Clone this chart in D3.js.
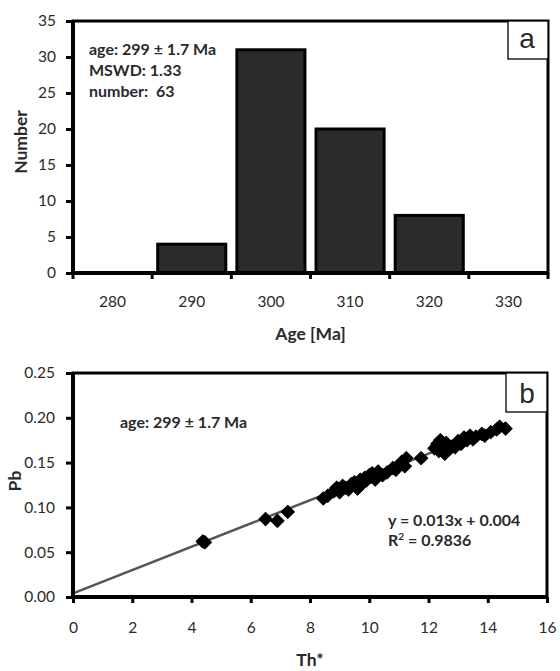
<!DOCTYPE html>
<html><head><meta charset="utf-8">
<script src="https://cdn.jsdelivr.net/npm/d3@7/dist/d3.min.js"></script>
<style>
body{margin:0;background:#fff;}
text{font-family:Lato,"Open Sans",sans-serif;}
</style></head>
<body><svg id="c" width="560" height="671"></svg>
<script>
// ---- Panel a data ----
const ageCategories = ["280","290","300","310","320","330"];
const ageCounts = [0, 4, 31, 20, 8, 0];
const countTicks = [0,5,10,15,20,25,30,35];
const annotA = ["age: 299 \u00b1 1.7 Ma", "MSWD: 1.33", "number:  63"];

// ---- Panel b data ----
const thStar = [4.38,4.45,6.5,6.9,7.25,
 8.45,8.6,8.8,8.9,9.0,9.1,9.2,9.3,9.4,9.5,9.6,9.65,9.7,9.75,9.85,9.9,10.0,10.05,10.1,10.2,10.3,10.45,10.6,10.8,10.9,11.0,11.1,11.2,11.25,
 11.75,12.2,12.3,12.35,12.4,12.5,12.55,12.6,12.7,12.8,12.9,13.0,13.1,13.2,13.3,13.4,13.5,13.6,13.8,13.9,14.1,14.3,14.4,14.6];
const pb = [0.062,0.061,0.087,0.085,0.095,
 0.110,0.113,0.118,0.122,0.117,0.124,0.122,0.120,0.126,0.128,0.121,0.123,0.131,0.127,0.133,0.130,0.136,0.134,0.138,0.131,0.140,0.136,0.139,0.144,0.142,0.147,0.151,0.146,0.155,
 0.155,0.166,0.171,0.163,0.175,0.168,0.160,0.172,0.165,0.168,0.167,0.174,0.171,0.178,0.175,0.180,0.176,0.179,0.182,0.180,0.184,0.187,0.190,0.188];
const xTicksB = [0,2,4,6,8,10,12,14,16];
const yTicksB = [0,0.05,0.10,0.15,0.20,0.25];
const slope = 0.013, intercept = 0.004;
const annotB = "age: 299 \u00b1 1.7 Ma";

const svg = d3.select("#c");
const TXT = "#2a2a2a";
const styleTicks = g => g.selectAll("text").attr("font-size",15.5).attr("fill",TXT).style("font-family","Lato");

// ================= Panel a =================
const A = {l:73, r:548, t:21, b:273};
const xa = d3.scaleBand().domain(ageCategories).range([A.l, A.r]).paddingInner(0.14).paddingOuter(0.07);
const ya = d3.scaleLinear().domain([0,35]).range([A.b, A.t]);
const ga = svg.append("g");

ga.selectAll("rect.bar").data(ageCategories.map((c,i)=>({c, v:ageCounts[i]})).filter(d=>d.v>0))
 .join("rect").attr("class","bar")
 .attr("x", d=>xa(d.c)).attr("width", xa.bandwidth())
 .attr("y", d=>ya(d.v)).attr("height", d=>ya(0)-ya(d.v))
 .attr("fill","#2b2b2b").attr("stroke","#000").attr("stroke-width",3);

ga.append("rect").attr("x",A.l).attr("y",A.t).attr("width",A.r-A.l).attr("height",A.b-A.t)
 .attr("fill","none").attr("stroke","#000").attr("stroke-width",3);
ga.append("line").attr("x1",A.l).attr("x2",A.r).attr("y1",A.b).attr("y2",A.b).attr("stroke","#000").attr("stroke-width",4);
ga.append("line").attr("x1",A.l).attr("x2",A.l).attr("y1",A.t).attr("y2",A.b).attr("stroke","#000").attr("stroke-width",4);

ga.append("g").attr("transform",`translate(${A.l},0)`)
 .call(d3.axisLeft(ya).tickValues(countTicks).tickSize(7).tickPadding(10))
 .call(g=>{g.select(".domain").remove(); g.selectAll("line").attr("stroke-width",3);}).call(styleTicks);

ga.append("g").attr("transform",`translate(0,${A.b})`)
 .call(d3.axisBottom(xa).tickSize(0).tickPadding(23))
 .call(g=>g.select(".domain").remove()).call(styleTicks);
const bounds = d3.range(ageCategories.length+1).map(i=>A.l + i*xa.step());
ga.selectAll("line.bt").data(bounds).join("line").attr("class","bt")
 .attr("x1",d=>d).attr("x2",d=>d).attr("y1",A.b).attr("y2",A.b+6)
 .attr("stroke","#000").attr("stroke-width",3);

ga.append("text").attr("transform",`translate(23,${(A.t+A.b)/2-5}) rotate(-90)`)
 .attr("text-anchor","middle").attr("dominant-baseline","middle").attr("fill",TXT)
 .attr("font-size",17.5).attr("font-weight","bold").text("Number");
ga.append("text").attr("x",(A.l+A.r)/2).attr("y",340).attr("text-anchor","middle").attr("fill",TXT)
 .attr("font-size",17.5).attr("font-weight","bold").text("Age [Ma]");

ga.selectAll("text.ann").data(annotA).join("text").attr("class","ann")
 .attr("x",89).attr("y",(d,i)=>55+i*21).attr("font-size",16).attr("font-weight","bold")
 .style("white-space","pre").attr("fill",TXT).text(d=>d);

ga.append("rect").attr("x",508).attr("y",A.t).attr("width",A.r-508).attr("height",38)
 .attr("fill","#fff").attr("stroke","#000").attr("stroke-width",1.3);
ga.append("text").attr("x",527).attr("y",48).attr("text-anchor","middle").attr("fill",TXT)
 .style("font-family","Liberation Sans, Arial").attr("font-size",28).text("a");

// ================= Panel b =================
const B = {l:73, r:547, t:373, b:597};
const xb = d3.scaleLinear().domain([0,16]).range([B.l,B.r]);
const yb = d3.scaleLinear().domain([0,0.25]).range([B.b,B.t]);
const gb = svg.append("g");

gb.append("rect").attr("x",B.l).attr("y",B.t).attr("width",B.r-B.l).attr("height",B.b-B.t)
 .attr("fill","none").attr("stroke","#000").attr("stroke-width",3);

gb.append("g").attr("transform",`translate(${B.l},0)`)
 .call(d3.axisLeft(yb).tickValues(yTicksB).tickFormat(d3.format(".2f")).tickSize(7).tickPadding(11))
 .call(g=>{g.select(".domain").remove(); g.selectAll("line").attr("stroke-width",3);}).call(styleTicks);
gb.append("g").attr("transform",`translate(0,${B.b})`)
 .call(d3.axisBottom(xb).tickValues(xTicksB).tickSize(6).tickPadding(19))
 .call(g=>{g.select(".domain").remove(); g.selectAll("line").attr("stroke-width",3);}).call(styleTicks);

// trend line
const xmax = d3.max(thStar);
gb.append("line").attr("x1",xb(0)).attr("y1",yb(intercept))
 .attr("x2",xb(xmax)).attr("y2",yb(slope*xmax+intercept))
 .attr("stroke","#555").attr("stroke-width",2.5);

gb.append("line").attr("x1",B.l).attr("x2",B.r).attr("y1",B.b).attr("y2",B.b).attr("stroke","#000").attr("stroke-width",4);
gb.append("line").attr("x1",B.l).attr("x2",B.l).attr("y1",B.t).attr("y2",B.b).attr("stroke","#000").attr("stroke-width",4);

// points
const sym = d3.symbol().type(d3.symbolSquare).size(88);
gb.selectAll("path.pt").data(thStar.map((x,i)=>({x, y:pb[i]}))).join("path").attr("class","pt")
 .attr("d",sym).attr("transform",d=>`translate(${xb(d.x)},${yb(d.y)}) rotate(45)`)
 .attr("fill","#000").attr("stroke","#000").attr("stroke-width",1).attr("stroke-linejoin","round");

gb.append("text").attr("transform",`translate(17,${(B.t+B.b)/2-4}) rotate(-90)`)
 .attr("text-anchor","middle").attr("dominant-baseline","middle").attr("fill",TXT)
 .attr("font-size",17.5).attr("font-weight","bold").text("Pb");
gb.append("text").attr("x",(B.l+B.r)/2).attr("y",666).attr("text-anchor","middle").attr("fill",TXT)
 .attr("font-size",17.5).attr("font-weight","bold").text("Th*");

gb.append("text").attr("x",120).attr("y",428).attr("font-size",16).attr("font-weight","bold")
 .attr("fill",TXT).text(annotB);
gb.append("text").attr("x",388).attr("y",526).attr("font-size",16).attr("font-weight","bold")
 .attr("fill",TXT).text("y = 0.013x + 0.004");
const r2 = gb.append("text").attr("x",388).attr("y",546).attr("font-size",16).attr("font-weight","bold").attr("fill",TXT);
r2.append("tspan").text("R");
r2.append("tspan").attr("font-size",10).attr("dy",-6).text("2");
r2.append("tspan").attr("dy",6).text(" = 0.9836");

gb.append("rect").attr("x",506).attr("y",B.t).attr("width",B.r-506).attr("height",39)
 .attr("fill","#fff").attr("stroke","#000").attr("stroke-width",1.3);
gb.append("text").attr("x",527).attr("y",403).attr("text-anchor","middle").attr("fill",TXT)
 .style("font-family","Liberation Sans, Arial").attr("font-size",28).text("b");
</script></body></html>
